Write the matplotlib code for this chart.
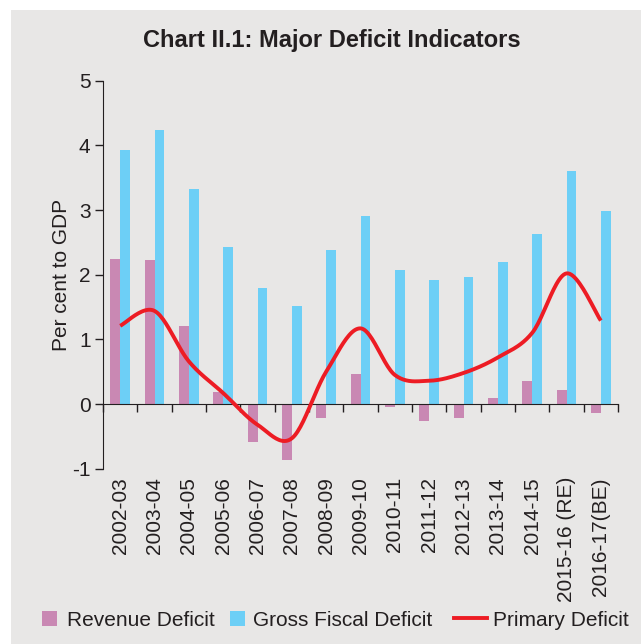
"""
Major deficit indicators chart
"""
import numpy as np
import matplotlib
matplotlib.use("Agg")
import matplotlib.pyplot as plt
from matplotlib.patches import Rectangle, Patch
from matplotlib.lines import Line2D
from matplotlib.legend_handler import HandlerPatch

# data (per cent to GDP)
years = ['2002-03', '2003-04', '2004-05', '2005-06', '2006-07', '2007-08',
         '2008-09', '2009-10', '2010-11', '2011-12', '2012-13', '2013-14',
         '2014-15', '2015-16 (RE)', '2016-17(BE)']
revenue_deficit = [2.25, 2.23, 1.21, 0.19, -0.58, -0.86, -0.22, 0.47,
                   -0.04, -0.27, -0.21, 0.09, 0.36, 0.22, -0.14]
gross_fiscal_deficit = [3.93, 4.24, 3.32, 2.43, 1.80, 1.51, 2.38, 2.91,
                        2.07, 1.92, 1.96, 2.20, 2.63, 3.60, 2.98]
primary_deficit = [1.21, 1.44, 0.66, 0.17, -0.32, -0.53, 0.50, 1.17,
                   0.45, 0.36, 0.48, 0.72, 1.10, 2.02, 1.29]

# colours
bg_col = '#e8e7e6'
rd_col = '#c988b3'
gfd_col = '#6dcff6'
pd_col = '#ed1c24'
txt_col = '#231f20'

plt.rcParams['font.family'] = ['Liberation Sans', 'DejaVu Sans']
plt.rcParams['axes.unicode_minus'] = False
plt.rcParams['text.color'] = txt_col
plt.rcParams['axes.labelcolor'] = txt_col
plt.rcParams['xtick.color'] = txt_col
plt.rcParams['ytick.color'] = txt_col

FS = 15
EM = FS * 100 / 72.0  # font size in pixels


# smooth line like a spreadsheet "smoothed line" (Catmull-Rom)
def smooth(xs, ys, n=24):
    p = np.column_stack([xs, ys]).astype(float)
    out = []
    for i in range(len(p) - 1):
        p0 = p[i - 1] if i > 0 else p[i]
        p3 = p[i + 2] if i + 2 < len(p) else p[i + 1]
        p1, p2 = p[i], p[i + 1]
        m1 = (p2 - p0) / 2.0
        m2 = (p3 - p1) / 2.0
        t = np.linspace(0, 1, n, endpoint=(i == len(p) - 2))[:, None]
        h00 = 2 * t**3 - 3 * t**2 + 1
        h10 = t**3 - 2 * t**2 + t
        h01 = -2 * t**3 + 3 * t**2
        h11 = t**3 - t**2
        out.append(h00 * p1 + h10 * m1 + h01 * p2 + h11 * m2)
    out = np.vstack(out)
    return out[:, 0], out[:, 1]


class SquareHandler(HandlerPatch):
    # legend patch drawn as a square filling the handle box
    def create_artists(self, legend, orig_handle, xdescent, ydescent,
                       width, height, fontsize, trans):
        side = width
        r = Rectangle((-xdescent, -ydescent + (height - side) / 2),
                      side, side, facecolor=orig_handle.get_facecolor(),
                      edgecolor='none', transform=trans)
        return [r]


fig = plt.figure(figsize=(6.41, 6.44), dpi=100)
fig.patch.set_facecolor('white')
# grey panel behind the chart
fig.patches.append(Rectangle((11 / 641, 0), 1 - 11 / 641, 1 - 10 / 644,
                             transform=fig.transFigure, facecolor=bg_col,
                             edgecolor='none', zorder=-10))

ax = fig.add_axes([103 / 641, 1 - 468.7 / 644, (618 - 103) / 641,
                   (468.7 - 80.7) / 644])
ax.set_facecolor('none')

x = np.arange(len(years))
w = 0.29
ax.bar(x - w / 2, revenue_deficit, width=w, color=rd_col, zorder=2)
ax.bar(x + w / 2, gross_fiscal_deficit, width=w, color=gfd_col, zorder=2)
sx, sy = smooth(x, primary_deficit)
ax.plot(sx, sy, color=pd_col, lw=2.8, solid_capstyle='butt', zorder=3)

ax.set_xlim(-0.5, len(years) - 0.5)
ax.set_ylim(-1, 5)
ax.set_yticks(range(-1, 6))
ax.tick_params(axis='y', labelsize=FS, length=6, width=1, pad=3)

# spines: x axis sits on zero
for s in ['top', 'right']:
    ax.spines[s].set_visible(False)
ax.spines['left'].set_color(txt_col)
ax.spines['bottom'].set_position(('data', 0))
ax.spines['bottom'].set_color(txt_col)
ax.set_xticks(np.arange(-0.5, len(years), 1.0))
ax.tick_params(axis='x', length=6, width=1, labelbottom=False)

# category labels along the bottom of the plot area
sec = ax.secondary_xaxis(0.0)
sec.set_xticks(x)
sec.set_xticklabels(years, rotation=90, fontsize=FS)
sec.tick_params(axis='x', length=0, pad=6)
sec.spines['bottom'].set_visible(False)

ax.set_ylabel('Per cent to GDP', fontsize=FS, labelpad=1)

fig.text(0.517, 1 - 40 / 644, 'Chart II.1: Major Deficit Indicators',
         fontsize=17, fontweight='bold', ha='center', va='center')

# legend entries placed one by one (different handle widths)
leg_y = 1 - 620 / 644
entries = [
    (Patch(facecolor=rd_col), 'Revenue Deficit', 42, 15, 10),
    (Patch(facecolor=gfd_col), 'Gross Fiscal Deficit', 230, 15, 8),
    (Line2D([], [], color=pd_col, lw=2.8), 'Primary Deficit', 454, 33, 6),
]
for handle, label, left, hlen, pad in entries:
    fig.legend([handle], [label], loc='center left',
               bbox_to_anchor=(left / 641, leg_y), frameon=False,
               fontsize=FS, handlelength=hlen / EM, handletextpad=pad / EM,
               borderpad=0, borderaxespad=0,
               handler_map={Patch: SquareHandler()})

plt.savefig('out.png', dpi=100, facecolor='white')
